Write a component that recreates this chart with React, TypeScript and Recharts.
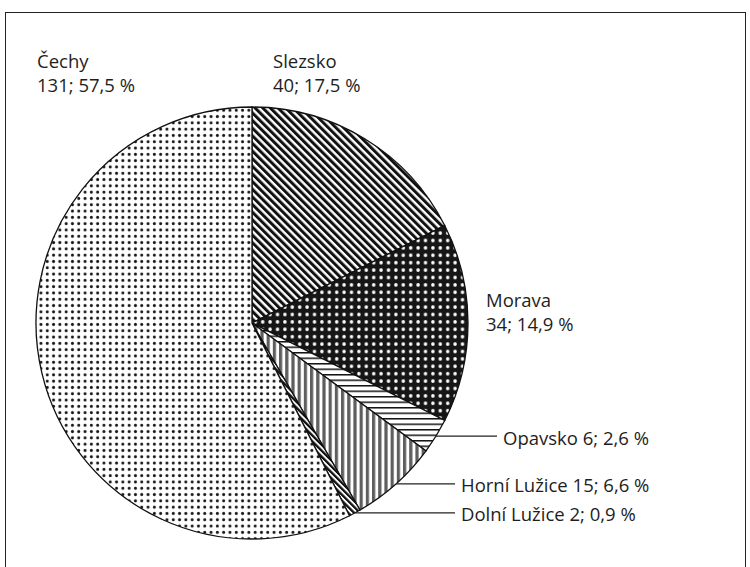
import { PieChart, Pie, Cell } from "recharts";

// regions, clockwise from 12 o'clock
const regions = ["Slezsko", "Morava", "Opavsko", "Horní Lužice", "Dolní Lužice", "Čechy"];
const counts = [40, 34, 6, 15, 2, 131];
const fills = [
  "url(#diag)",
  "url(#darkDots)",
  "url(#hlines)",
  "url(#grayV)",
  "url(#diagFine)",
  "url(#dots)",
];

const data = regions.map((name, i) => ({ name, value: counts[i] }));
const total = counts.reduce((a, b) => a + b, 0);

const FONT = "'Open Sans', sans-serif";
const FS = 18.5;
const RAD = Math.PI / 180;

// where each label sits, relative to the pie centre
const labelPos: Record<string, { dx: number; dy: number; line?: number }> = {
  Čechy: { dx: -215, dy: -255 },
  Slezsko: { dx: 21, dy: -255 },
  Morava: { dx: 234, dy: -16 },
  Opavsko: { dx: 245, dy: 0, line: 1 },
  "Horní Lužice": { dx: 203, dy: 0, line: 1 },
  "Dolní Lužice": { dx: 203, dy: 0, line: 1 },
};

const pct = (v: number) => ((v / total) * 100).toFixed(1).replace(".", ",");

function renderLabel(props: any) {
  const { cx, cy, midAngle, outerRadius, name, value } = props;
  const pos = labelPos[name];
  if (!pos) return null;
  if (pos.line) {
    const x0 = cx + outerRadius * Math.cos(-midAngle * RAD);
    const y0 = cy + outerRadius * Math.sin(-midAngle * RAD);
    const x1 = cx + pos.dx;
    return (
      <g>
        <line x1={x0} y1={y0} x2={x1} y2={y0} stroke="#222" strokeWidth={1.3} />
        <text
          x={x1 + 6}
          y={y0 + 1}
          dominantBaseline="central"
          fill="#1e1e1e"
          fontSize={FS}
          fontFamily={FONT}
        >
          {`${name} ${value}; ${pct(value)} %`}
        </text>
      </g>
    );
  }
  const x = cx + pos.dx;
  const y = cy + pos.dy;
  return (
    <text x={x} y={y} fill="#1e1e1e" fontSize={FS} fontFamily={FONT}>
      <tspan x={x} dy={0}>{name}</tspan>
      <tspan x={x} dy={24}>{`${value}; ${pct(value)} %`}</tspan>
    </text>
  );
}

export default function App() {
  return (
    <div style={{ position: "absolute", left: 0, top: 0, width: 750, height: 567, background: "#fff" }}>
      <div
        style={{
          position: "absolute",
          left: 5,
          top: 12,
          width: 741,
          height: 570,
          border: "1.5px solid #222",
          boxSizing: "border-box",
        }}
      />
      <div style={{ position: "absolute", left: 0, top: 0 }}>
        <PieChart width={750} height={567} margin={{ top: 0, right: 0, bottom: 0, left: 0 }}>
          <defs>
            <pattern id="diag" width={5.4} height={5.4} patternUnits="userSpaceOnUse" patternTransform="rotate(-45)">
              <rect width={5.4} height={5.4} fill="#fff" />
              <rect x={0} y={0} width={3} height={5.4} fill="#111" />
            </pattern>
            <pattern id="diagFine" width={4.2} height={4.2} patternUnits="userSpaceOnUse" patternTransform="rotate(-45)">
              <rect width={4.2} height={4.2} fill="#fff" />
              <rect x={0} y={0} width={2.3} height={4.2} fill="#111" />
            </pattern>
            <pattern id="darkDots" width={7.4} height={7.4} patternUnits="userSpaceOnUse">
              <rect width={7.4} height={7.4} fill="#161616" />
              <circle cx={3.7} cy={3.7} r={1.75} fill="#fff" />
            </pattern>
            <pattern id="hlines" width={5.5} height={5.5} patternUnits="userSpaceOnUse">
              <rect width={5.5} height={5.5} fill="#fff" />
              <rect x={0} y={0} width={5.5} height={1.5} fill="#111" />
            </pattern>
            <pattern id="grayV" width={6.2} height={6.2} patternUnits="userSpaceOnUse">
              <rect width={6.2} height={6.2} fill="#fff" />
              <rect x={0} y={0} width={3.2} height={6.2} fill="#5e5e5e" />
            </pattern>
            <pattern id="dots" width={6.3} height={6.3} patternUnits="userSpaceOnUse">
              <rect width={6.3} height={6.3} fill="#fff" />
              <circle cx={3.15} cy={3.15} r={1.5} fill="#151515" />
            </pattern>
          </defs>
          <Pie
            data={data}
            dataKey="value"
            nameKey="name"
            cx={252}
            cy={323}
            outerRadius={216}
            startAngle={90}
            endAngle={-270}
            stroke="#111"
            strokeWidth={1.3}
            label={renderLabel}
            labelLine={false}
            isAnimationActive={false}
          >
            {data.map((d, i) => (
              <Cell key={d.name} fill={fills[i]} />
            ))}
          </Pie>
        </PieChart>
      </div>
    </div>
  );
}
